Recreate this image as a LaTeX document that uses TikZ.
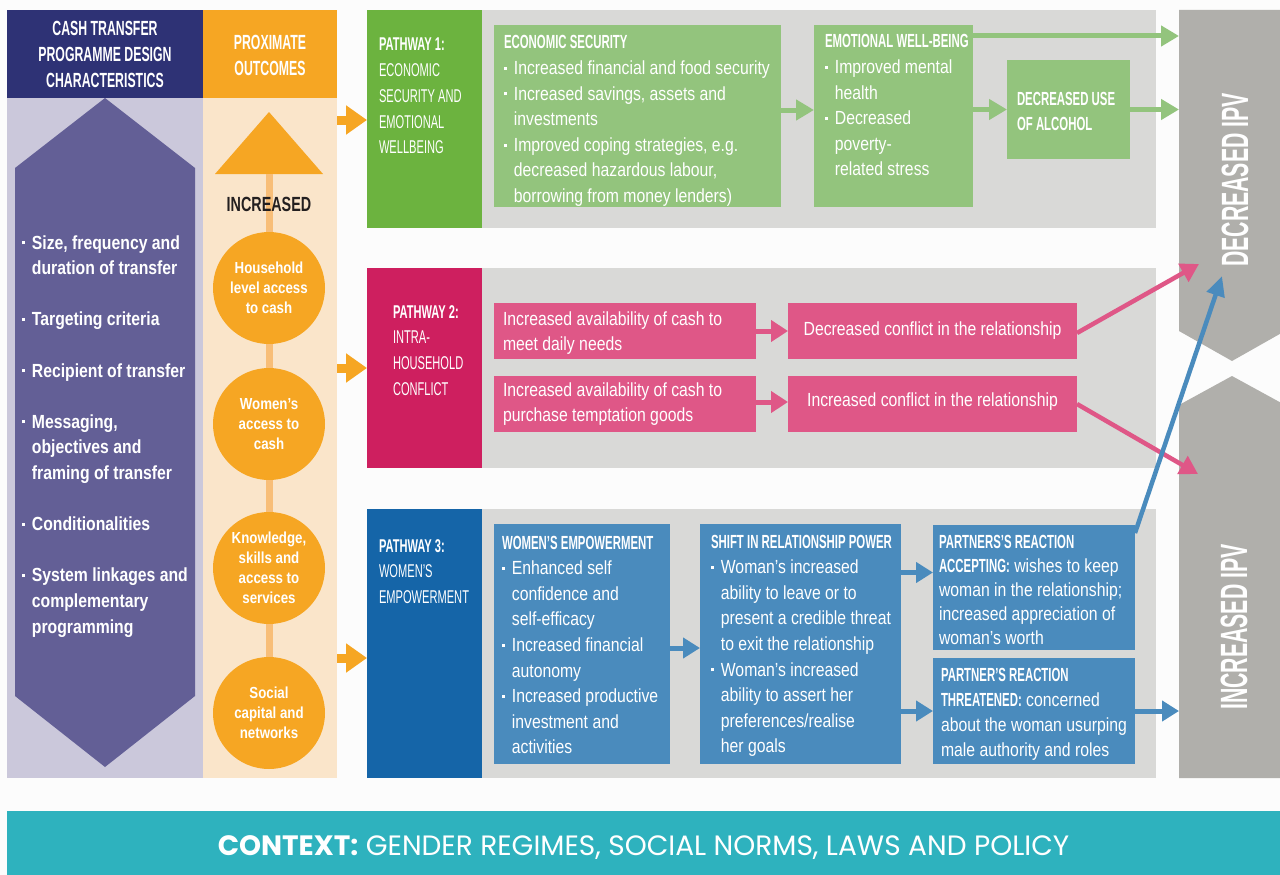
\documentclass[tikz,border=0pt]{standalone}
\usepackage{fontspec}
\setmainfont{Liberation Sans}
\newfontfamily\body[FakeStretch=0.83]{Liberation Sans}
\newfontfamily\beb[FakeStretch=0.6]{Liberation Sans}
\newfontfamily\bebw[FakeStretch=0.7]{Liberation Sans}
\newfontfamily\bebn[FakeStretch=0.56]{Liberation Sans}
\newfontfamily\ctxf{Poppins}
\usetikzlibrary{arrows.meta}
\definecolor{bgc}{HTML}{FCFCFC}
\definecolor{navy}{HTML}{2E3275}
\definecolor{orng}{HTML}{F6A623}
\definecolor{lorng}{HTML}{FAE5CA}
\definecolor{vorng}{HTML}{F8BE78}
\definecolor{lav}{HTML}{CBC8DB}
\definecolor{purp}{HTML}{635F96}
\definecolor{dgreen}{HTML}{6CB33F}
\definecolor{lgreen}{HTML}{93C47D}
\definecolor{magenta}{HTML}{CE1F5F}
\definecolor{pink}{HTML}{DF5787}
\definecolor{dblue}{HTML}{1565A8}
\definecolor{lblue}{HTML}{4A8BBD}
\definecolor{gpanel}{HTML}{D9D9D7}
\definecolor{rgrey}{HTML}{B0AFAB}
\definecolor{teal}{HTML}{2EB2BE}
\definecolor{darktext}{HTML}{231F20}
\newcommand\bul{\makebox[0.52em][l]{\rule[0.25em]{0.16em}{0.16em}}}
\newcommand\ind{\hspace*{0.52em}}
\newcommand\natsp{\spaceskip=0pt\xspaceskip=0pt\relax}
\begin{document}
\begin{tikzpicture}[x=1pt,y=-1pt,
  rbox/.style={anchor=north west, inner sep=0pt, outer sep=0pt, draw=none, fill=#1},
  txt/.style={anchor=base west, inner sep=0pt, outer sep=0pt, align=left, text=white, text width=#1, execute at begin node=\natsp},
  bodyf/.style={font=\body\fontsize{19}{25.6}\selectfont},
  hdr/.style={inner sep=0pt, align=center, text=white, font=\beb\bfseries\fontsize{20.5}{26}\selectfont, execute at begin node=\natsp},
  pathf/.style={font=\beb\fontsize{18.5}{25.7}\selectfont},
  circ/.style={circle, fill=orng, minimum size=112pt, inner sep=0pt, text=white, align=center, font=\body\bfseries\fontsize{16}{20}\selectfont, execute at begin node=\natsp},
  vline/.style={draw=vorng, line width=7pt},
  oarrow/.style={draw=orng, line width=9pt, -{Triangle[length=21pt,width=28pt]}},
  garrow/.style={draw=lgreen, line width=5pt, -{Triangle[length=18pt,width=20pt]}},
  parrow/.style={draw=pink, line width=5pt, -{Triangle[length=17pt,width=21pt]}},
  pdiag/.style={draw=pink, line width=4.5pt, -{Triangle[length=18pt,width=20pt]}},
  barrow/.style={draw=lblue, line width=5pt, -{Triangle[length=17pt,width=20pt]}},
  bdiag/.style={draw=lblue, line width=4.5pt, -{Triangle[length=20pt,width=18pt]}},
  rtxt/.style={rotate=90, inner sep=0pt, text=white, font=\bebn\bfseries\fontsize{38}{40}\selectfont}
]
\useasboundingbox (0,0) rectangle (1280,875);
\fill[bgc] (0,0) rectangle (1280,875);

% ---------- left columns ----------
\node[rbox=navy, minimum width=196pt, minimum height=88pt] (hdrL) at (7,10) {};
\node[rbox=orng, minimum width=134pt, minimum height=88pt] (hdrR) at (203,10) {};
\node[hdr] (hdrLt) at (hdrL.center) {CASH TRANSFER\\PROGRAMME DESIGN\\CHARACTERISTICS};
\node[hdr] (hdrRt) at ([yshift=-1pt]hdrR.center) {PROXIMATE\\OUTCOMES};
\node[rbox=lav, minimum width=196pt, minimum height=680pt] (lav) at (7,98) {};
\node[rbox=lorng, minimum width=134pt, minimum height=680pt] (opan) at (203,98) {};
\fill[purp] (105,98) -- (195,168) -- (195,696) -- (105,767) -- (15,696) -- (15,168) -- cycle;
\node[txt=178pt, font=\body\bfseries\fontsize{19}{25.6}\selectfont] (design) at (22,249)
 {\bul Size, frequency and\\ \ind duration of transfer\\[25.6pt]
  \bul Targeting criteria\\[25.6pt]
  \bul Recipient of transfer\\[25.6pt]
  \bul Messaging,\\ \ind objectives and\\ \ind framing of transfer\\[25.6pt]
  \bul Conditionalities\\[25.6pt]
  \bul System linkages and\\ \ind complementary\\ \ind programming};

% proximate outcomes
\fill[orng] (269,112) -- (323,174) -- (215,174) -- cycle;
\coordinate (tribase) at (269,174);
\node[circ] (c1) at (269,288) {Household\\level access\\to cash};
\node[circ] (c2) at (269,424) {Women’s\\access to\\cash};
\node[circ] (c3) at (269,568) {Knowledge,\\skills and\\access to\\services};
\node[circ] (c4) at (269,713) {Social\\capital and\\networks};
\draw[vline] (tribase) -- (c1.north);
\draw[vline] (c1.south) -- (c2.north);
\draw[vline] (c2.south) -- (c3.north);
\draw[vline] (c3.south) -- (c4.north);
\node[inner sep=0pt, text=darktext, font=\bebw\bfseries\fontsize{20.5}{24}\selectfont] (incr) at (269,204) {INCREASED};

% ---------- pathway panels ----------
\node[rbox=dgreen, minimum width=115pt, minimum height=218pt] (p1) at (367,10) {};
\node[rbox=gpanel, minimum width=674pt, minimum height=218pt] (g1) at (482,10) {};
\node[rbox=magenta, minimum width=115pt, minimum height=200pt] (p2) at (367,268) {};
\node[rbox=gpanel, minimum width=674pt, minimum height=200pt] (g2) at (482,268) {};
\node[rbox=dblue, minimum width=115pt, minimum height=269pt] (p3) at (367,509) {};
\node[rbox=gpanel, minimum width=674pt, minimum height=269pt] (g3) at (482,509) {};

\node[txt=105pt, pathf] (p1t) at (379,51) {\textbf{PATHWAY 1:}\\ECONOMIC\\SECURITY AND\\EMOTIONAL\\WELLBEING};
\node[txt=85pt, pathf] (p2t) at (393,318) {\textbf{PATHWAY 2:}\\INTRA-\\HOUSEHOLD\\CONFLICT};
\node[txt=105pt, pathf] (p3t) at (379,552) {\textbf{PATHWAY 3:}\\WOMEN’S\\EMPOWERMENT};

% orange arrows into pathways
\coordinate (o1) at (337,120);
\coordinate (o2) at (337,368);
\coordinate (o3) at (337,658);
\draw[oarrow] (o1) -- (o1 -| p1.west);
\draw[oarrow] (o2) -- (o2 -| p2.west);
\draw[oarrow] (o3) -- (o3 -| p3.west);

% ---------- right column ----------
\fill[rgrey] (1179,10) -- (1285,10) -- (1285,331) -- (1232,361) -- (1179,331) -- cycle;
\fill[rgrey] (1179,405) -- (1232,376) -- (1285,405) -- (1285,778) -- (1179,778) -- cycle;
\node[rtxt] (decT) at (1235,180) {DECREASED IPV};
\node[rtxt] (incT) at (1234,627) {INCREASED IPV};
\coordinate (decA) at (1179,36);
\coordinate (decB) at (1179,110);
\coordinate (decP) at (1199,264);
\coordinate (decQ) at (1222,276);
\coordinate (incP) at (1198,474);
\coordinate (incB) at (1179,710);

% ---------- pathway 1 ----------
\node[rbox=lgreen, minimum width=287pt, minimum height=182pt] (econ) at (494,25) {};
\node[rbox=lgreen, minimum width=159pt, minimum height=182pt] (emo) at (814,25) {};
\node[rbox=lgreen, minimum width=123pt, minimum height=99pt] (alc) at (1007,60) {};
\node[txt=282pt, bodyf] (econt) at (504,49)
 {{\beb\bfseries ECONOMIC SECURITY}\\
  \bul Increased financial and food security\\
  \bul Increased savings, assets and\\
  \ind investments\\
  \bul Improved coping strategies, e.g.\\
  \ind decreased hazardous labour,\\
  \ind borrowing from money lenders)};
\node[txt=150pt, bodyf] (emot) at (825,48)
 {{\beb\bfseries EMOTIONAL WELL-BEING}\\
  \bul Improved mental\\
  \ind health\\
  \bul Decreased\\
  \ind poverty-\\
  \ind related stress};
\node[txt=115pt, font=\beb\bfseries\fontsize{19}{25}\selectfont] (alct) at (1017,105) {DECREASED USE\\OF ALCOHOL};
\draw[garrow] ([yshift=6pt]econ.east) -- ([yshift=6pt]emo.west);
\draw[garrow] (emo.east |- alc.west) -- (alc.west);
\draw[garrow] ([yshift=-11pt]emo.north east) -- (decA);
\draw[garrow] (alc.east) -- (alc.east -| decB);

% ---------- pathway 2 ----------
\node[rbox=pink, minimum width=262pt, minimum height=56pt] (pa) at (494,303) {};
\node[rbox=pink, minimum width=262pt, minimum height=56pt] (pb) at (494,376) {};
\node[rbox=pink, minimum width=289pt, minimum height=56pt] (pc) at (788,303) {};
\node[rbox=pink, minimum width=289pt, minimum height=56pt] (pd) at (788,376) {};
\node[txt=250pt, font=\body\fontsize{19}{25}\selectfont] (pat) at (503,325) {Increased availability of cash to\\meet daily needs};
\node[txt=250pt, font=\body\fontsize{19}{25}\selectfont] (pbt) at (503,396) {Increased availability of cash to\\purchase temptation goods};
\node[inner sep=0pt, text=white, bodyf] (pct) at (pc.center) {Decreased conflict in the relationship};
\node[inner sep=0pt, text=white, bodyf] (pdt) at ([yshift=2pt]pd.center) {Increased conflict in the relationship};
\draw[parrow] (pa.east) -- (pc.west);
\draw[parrow] ([yshift=2pt]pb.east) -- ([yshift=2pt]pd.west);
\draw[pdiag] ([yshift=-2pt]pc.east) -- (decP);
\draw[pdiag] (pd.east) -- (incP);

% ---------- pathway 3 ----------
\node[rbox=lblue, minimum width=176pt, minimum height=240pt] (we) at (494,524) {};
\node[rbox=lblue, minimum width=201pt, minimum height=240pt] (sh) at (700,524) {};
\node[rbox=lblue, minimum width=202pt, minimum height=125pt] (acc) at (933,525) {};
\node[rbox=lblue, minimum width=202pt, minimum height=106pt] (thr) at (933,658) {};
\node[txt=170pt, bodyf] (wet) at (502,549)
 {{\beb\bfseries WOMEN’S EMPOWERMENT}\\
  \bul Enhanced self\\
  \ind confidence and\\
  \ind self-efficacy\\
  \bul Increased financial\\
  \ind autonomy\\
  \bul Increased productive\\
  \ind investment and\\
  \ind activities};
\node[txt=195pt, bodyf] (sht) at (711,548)
 {{\beb\bfseries SHIFT IN RELATIONSHIP POWER}\\
  \bul Woman’s increased\\
  \ind ability to leave or to\\
  \ind present a credible threat\\
  \ind to exit the relationship\\
  \bul Woman’s increased\\
  \ind ability to assert her\\
  \ind preferences/realise\\
  \ind her goals};
\node[txt=196pt, font=\body\fontsize{19}{24}\selectfont] (acct) at (939,548)
 {{\beb\bfseries PARTNERS’S REACTION}\\
  {\beb\bfseries ACCEPTING:} wishes to keep\\
  woman in the relationship;\\
  increased appreciation of\\
  woman’s worth};
\node[txt=194pt, font=\body\fontsize{19}{25.3}\selectfont] (thrt) at (941,681)
 {{\beb\bfseries PARTNER’S REACTION}\\
  {\beb\bfseries THREATENED:} concerned\\
  about the woman usurping\\
  male authority and roles};
\coordinate (accIn) at ([yshift=15pt]acc.west);
\draw[barrow] ([yshift=-4pt]we.east) -- ([yshift=-4pt]sh.west);
\draw[barrow] (accIn -| sh.east) -- (accIn);
\draw[barrow] (sh.east |- thr.west) -- (thr.west);
\draw[barrow] (thr.east) -- (thr.east -| incB);
\draw[bdiag] ([yshift=-8pt]acc.north east) -- (decQ);

% ---------- context ----------
\node[rbox=teal, minimum width=1273pt, minimum height=64pt] (ctx) at (7,811) {};
\node[inner sep=0pt, text=white, font=\ctxf\fontsize{28}{32}\selectfont] (ctxt) at ([yshift=-5pt]ctx.center) {\textbf{CONTEXT:} GENDER REGIMES, SOCIAL NORMS, LAWS AND POLICY};
\end{tikzpicture}
\end{document}
